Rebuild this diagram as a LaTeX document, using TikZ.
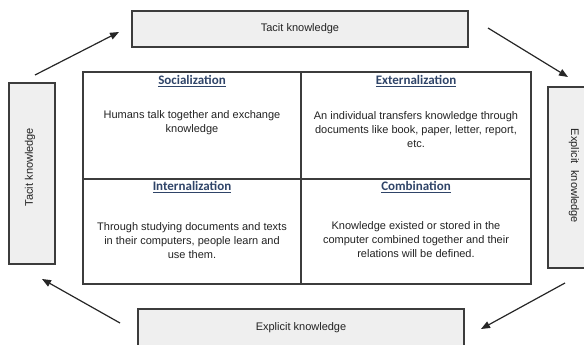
\documentclass[tikz,border=0pt]{standalone}
\usepackage{fontspec}
\setmainfont{Liberation Sans}
\newfontfamily\headfont{Carlito}
\usetikzlibrary{arrows.meta}
\definecolor{boxfill}{HTML}{EFEFEF}
\definecolor{edgegray}{HTML}{3C3C3C}
\definecolor{headblue}{HTML}{2F4468}
\definecolor{bodytext}{HTML}{222222}
\begin{document}
\begin{tikzpicture}[x=1pt,y=-1pt,
  labelbox/.style={draw=edgegray,fill=boxfill,line width=1.1pt,inner sep=0pt,
    text=bodytext,font=\fontsize{11}{13}\selectfont},
  cell/.style={draw=edgegray,line width=1.1pt,inner sep=0pt,minimum width=#1},
  heading/.style={font=\headfont\bfseries\fontsize{13}{15}\selectfont,text=headblue,inner sep=0pt},
  body/.style={align=center,text=bodytext,font=\fontsize{11}{14}\selectfont,inner sep=0pt},
  flow/.style={draw=black!85,line width=1.2pt,-{Triangle[length=9pt,width=7pt]}}]
\useasboundingbox (0,0) rectangle (584,345);
\clip (0,0) rectangle (584,345);

% the four modes of knowledge conversion
\node[cell=218pt,minimum height=107pt] (soc) at (192,125.5) {};
\node[cell=230pt,minimum height=107pt] (ext) at (416,125.5) {};
\node[cell=218pt,minimum height=105pt] (int) at (192,231.5) {};
\node[cell=230pt,minimum height=105pt] (com) at (416,231.5) {};

\node[heading] (socH) at (192,81) {\underline{Socialization}};
\node[heading] (extH) at (416,81) {\underline{Externalization}};
\node[heading] (intH) at (192,187) {\underline{Internalization}};
\node[heading] (comH) at (416,187) {\underline{Combination}};

\node[body] (socB) at (192,123) {Humans talk together and exchange\\knowledge};
\node[body] (extB) at (416,130) {An individual transfers knowledge through\\documents like book, paper, letter, report,\\etc.};
\node[body] (intB) at (192,241) {Through studying documents and texts\\in their computers, people learn and\\use them.};
\node[body] (comB) at (416,240) {Knowledge existed or stored in the\\computer combined together and their\\relations will be defined.};

% surrounding knowledge states
\node[labelbox,minimum width=336pt,minimum height=36pt] (top) at (300,29) {Tacit knowledge};
\node[labelbox,minimum width=326pt,minimum height=37pt] (bottom) at (301,327.5) {Explicit knowledge};
\node[labelbox,minimum width=46pt,minimum height=181pt] (left) at (32,173.5) {};
\node[labelbox,minimum width=54pt,minimum height=181pt] (right) at (575,177.5) {};
\node[rotate=90,text=bodytext,font=\fontsize{11}{13}\selectfont,inner sep=0pt] (leftT) at (30,167) {Tacit knowledge};
\node[rotate=-90,text=bodytext,font=\fontsize{11}{13}\selectfont,inner sep=0pt] (rightT) at (574,176) {Explicit\hspace{0.6em}knowledge};

% cycle arrows
\coordinate (a1) at (35,75);   \coordinate (a2) at (119,32);
\coordinate (b1) at (488,28);  \coordinate (b2) at (568,77);
\coordinate (c1) at (565,283); \coordinate (c2) at (481,329);
\coordinate (d1) at (120,323); \coordinate (d2) at (42,279);
\draw[flow] (a1) -- (a2);
\draw[flow] (b1) -- (b2);
\draw[flow] (c1) -- (c2);
\draw[flow] (d1) -- (d2);
\end{tikzpicture}
\end{document}
